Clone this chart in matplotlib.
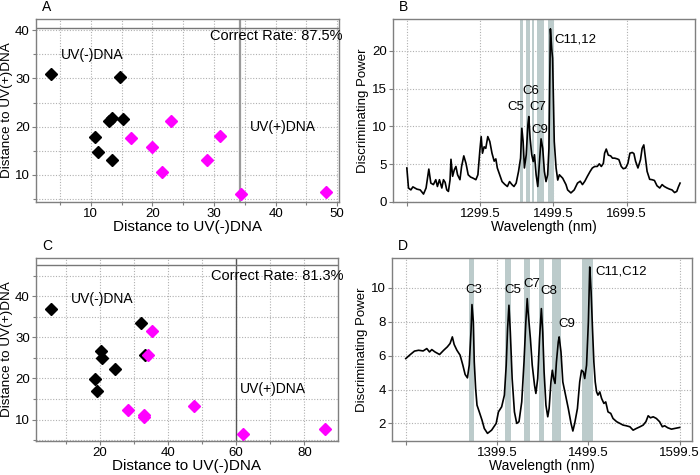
import matplotlib
matplotlib.use('Agg')
import matplotlib.pyplot as plt
from matplotlib.ticker import MultipleLocator, FixedLocator

plt.rcParams['font.family'] = ['Liberation Sans', 'DejaVu Sans']
plt.rcParams['font.size'] = 9.5

# ---- panel A: distances (model 1)
a_neg_x = [3.5, 14.8, 10.6, 11.2, 12.9, 13.5, 15.3, 13.4]
a_neg_y = [30.9, 30.2, 17.9, 14.7, 21.2, 21.7, 21.6, 13.0]
a_pos_x = [16.6, 19.9, 23.1, 21.5, 28.9, 31.0, 34.4, 48.2]
a_pos_y = [17.6, 15.8, 21.2, 10.7, 13.0, 18.0, 6.1, 6.5]
a_cut_x = 34.3
a_cut_y = 40.5

# ---- panel C: distances (model 2)
c_neg_x = [5.5, 32.1, 20.2, 20.5, 24.4, 18.4, 19.2, 33.1]
c_neg_y = [36.8, 33.4, 26.8, 24.9, 22.3, 19.8, 17.0, 25.6]
c_pos_x = [35.4, 34.0, 28.2, 32.9, 33.0, 47.7, 62.0, 86.0]
c_pos_y = [31.6, 25.8, 12.3, 11.1, 10.7, 13.4, 6.6, 7.6]
c_cut_x = 59.8
c_cut_y = 47.5

# ---- panel B: discriminating power spectrum
b_wl = [1099.5, 1104, 1110.5, 1116, 1127, 1136, 1145, 1152, 1159.5, 1165,
        1172, 1178.5, 1183, 1188.5, 1195, 1199.5, 1204, 1208.5, 1213, 1217.5,
        1220, 1224.5, 1229, 1233.5, 1238, 1244.5, 1249, 1255, 1261, 1267,
        1273.5, 1280.5, 1288, 1293.5, 1299, 1302.5, 1306, 1310.5, 1315, 1320.5,
        1326, 1332, 1338, 1342.5, 1346.5, 1353, 1359.5, 1366.5, 1374, 1380,
        1386.5, 1392, 1398, 1404.5, 1410, 1413.5, 1417, 1420.5, 1425.5, 1430,
        1432.5, 1436, 1440.5, 1444.5, 1448, 1452.5, 1457, 1462.5, 1466, 1470.5,
        1475, 1479.5, 1484, 1487.5, 1491.5, 1495, 1497.5, 1502, 1507, 1511.5,
        1516, 1525, 1534, 1538.5, 1547.5, 1556.5, 1565.5, 1573, 1579, 1585.5,
        1592.5, 1600, 1606, 1612.5, 1619.5, 1625, 1630.5, 1636, 1639.5, 1644,
        1649.5, 1656, 1661, 1667, 1674, 1678.5, 1685, 1690.5, 1697, 1703,
        1708.5, 1715, 1719.5, 1724, 1730.5, 1737.5, 1742, 1746.5, 1751, 1755.5,
        1762.5, 1769, 1775.5, 1782.5, 1790, 1796.5, 1802.5, 1810, 1817, 1823.5,
        1830.5, 1836.5, 1841, 1845.5]
b_dp = [4.5, 1.85, 1.6, 2.0, 1.7, 1.6, 1.05, 1.85, 4.35, 2.5,
        2.3, 2.95, 2.05, 2.95, 1.85, 2.95, 2.6, 1.6, 1.4, 2.95,
        5.65, 3.4, 4.25, 4.7, 3.6, 2.95, 4.7, 6.1, 5.1, 3.6,
        3.3, 3.15, 2.95, 3.6, 6.9, 8.65, 6.45, 7.3, 7.1, 8.65,
        8.0, 6.45, 5.4, 5.7, 4.5, 3.6, 2.7, 2.35, 2.05, 2.7,
        2.3, 2.05, 2.5, 4.05, 5.8, 9.75, 8.0, 4.5, 6.25, 10.2,
        11.3, 8.45, 6.25, 5.35, 6.25, 3.6, 2.05, 5.8, 8.35, 7.1,
        4.05, 2.7, 3.6, 7.1, 22.9, 20.3, 19.0, 8.0, 4.5, 2.9,
        3.6, 3.15, 2.3, 1.6, 1.2, 1.6, 2.5, 2.75, 2.3, 2.75,
        3.4, 4.05, 4.5, 4.7, 4.7, 5.05, 4.7, 5.1, 6.45, 7.0,
        6.2, 6.1, 5.8, 5.8, 5.7, 5.6, 4.7, 4.4, 4.5, 5.1,
        6.45, 6.55, 6.4, 5.4, 4.5, 5.6, 7.1, 7.55, 5.8, 4.05,
        3.0, 2.95, 2.85, 2.15, 1.85, 2.3, 2.05, 1.85, 1.7, 1.6,
        1.25, 1.4, 2.0, 2.5]
b_bands = [(1408.5, 1415.5), (1424, 1435), (1441.5, 1448), (1455, 1473), (1484.5, 1501)]
b_labels = ['C5', 'C6', 'C7', 'C9']
b_label_x = [1398.3, 1439, 1457, 1463.4]
b_label_y = [12.5, 14.7, 12.5, 9.5]

# ---- panel D: discriminating power spectrum (second model)
d_wl = [1299.5, 1304.5, 1309, 1313.5, 1318.5, 1322.5, 1325.5, 1328, 1331.5, 1336.5,
        1341, 1345, 1348, 1350.5, 1352.5, 1355.5, 1359, 1362, 1364.5, 1367,
        1369, 1371, 1372, 1373.5, 1374.5, 1376, 1377.5, 1380, 1383, 1385.5,
        1389, 1393.5, 1398.5, 1401, 1404.5, 1407.5, 1409.5, 1411, 1412.5, 1414,
        1416, 1418.5, 1421, 1423.5, 1426.5, 1429, 1431, 1432.5, 1433.5, 1436,
        1438, 1440.5, 1442, 1444, 1446, 1448, 1449.5, 1451, 1453, 1455,
        1456.5, 1458.5, 1460, 1461.5, 1463, 1464.5, 1466.5, 1467.5, 1469.5, 1471.5,
        1474.5, 1477.5, 1480.5, 1482.5, 1484.5, 1487.5, 1490, 1492, 1494, 1495.5,
        1497.5, 1499.5, 1500.5, 1501, 1502.5, 1504, 1505.5, 1507, 1508.5, 1510,
        1512, 1514, 1516.5, 1518.5, 1521, 1524, 1526.5, 1530.5, 1534, 1537.5,
        1541, 1545, 1548.5, 1552, 1556, 1559.5, 1562.5, 1565, 1567.5, 1570.5,
        1574, 1577.5, 1580.5, 1583, 1586.5, 1590.5, 1594, 1599.5]
d_dp = [5.83, 6.07, 6.27, 6.32, 6.28, 6.42, 6.22, 6.36, 6.22, 6.07,
        6.32, 6.52, 6.72, 7.11, 6.66, 6.32, 6.03, 5.44, 4.89, 4.69,
        5.44, 7.5, 9.02, 8.0, 5.63, 4.06, 3.08, 2.68, 2.19, 1.7,
        1.41, 1.6, 2.0, 2.68, 2.98, 3.67, 5.44, 7.6, 8.98, 7.4,
        4.65, 2.68, 2.0, 2.1, 3.27, 5.63, 8.0, 9.37, 8.58, 7.01,
        5.44, 4.26, 3.77, 4.65, 7.01, 8.78, 7.4, 5.04, 3.08, 2.39,
        2.88, 4.45, 5.14, 4.65, 4.36, 5.63, 6.81, 7.11, 6.22, 4.45,
        3.67, 2.88, 2.0, 1.55, 2.0, 2.88, 4.45, 5.14, 5.04, 4.65,
        5.44, 8.0, 10.16, 11.24, 9.76, 7.6, 5.63, 4.45, 3.86, 3.67,
        3.86, 3.47, 3.18, 3.27, 2.68, 2.59, 2.29, 2.1, 2.0, 1.9,
        1.86, 1.8, 1.6, 1.7, 1.8, 1.9, 2.1, 2.45, 2.33, 2.39,
        2.29, 2.1, 1.8, 1.86, 1.74, 1.66, 1.7, 1.76]
d_bands = [(1369, 1374.5), (1408.5, 1414.5), (1429.5, 1435.5), (1445.5, 1450.5),
           (1460, 1469.5), (1492, 1505)]
d_labels = ['C3', 'C5', 'C7', 'C8', 'C9']
d_label_x = [1374.4, 1416.2, 1437.4, 1456.7, 1476.3]
d_label_y = [9.86, 9.86, 10.24, 9.8, 7.9]

band_color = '#bccbcb'
frame_color = '#7f7f7f'
grid_kw = dict(color='#b0b0b0', linestyle=(0, (1, 1.5)), linewidth=0.8)


def style_axes(ax):
    for s in ax.spines.values():
        s.set_color(frame_color)
        s.set_linewidth(1.0)
    ax.tick_params(which='both', direction='out', color=frame_color, length=3,
                   width=0.8, labelsize=9.5, pad=1.5)
    ax.tick_params(which='minor', length=2)
    ax.grid(True, which='both', **grid_kw)
    ax.set_axisbelow(True)


fig = plt.figure(figsize=(7, 4.75), dpi=100)
axA = fig.add_axes([36 / 700, 1 - 202 / 475, 303 / 700, 183 / 475])
axB = fig.add_axes([393 / 700, 1 - 202 / 475, 302 / 700, 183 / 475])
axC = fig.add_axes([36 / 700, 1 - 441 / 475, 302 / 700, 183 / 475])
axD = fig.add_axes([392 / 700, 1 - 441 / 475, 300 / 700, 183 / 475])

# A
ax = axA
style_axes(ax)
ax.plot(a_neg_x, a_neg_y, 'D', color='black', markersize=6, zorder=3)
ax.plot(a_pos_x, a_pos_y, 'D', color='#ff00ff', markersize=6, zorder=3)
ax.axvline(a_cut_x, color='#999999', lw=1.6, zorder=2)
ax.axhline(a_cut_y, color='#777777', lw=1.0, zorder=2)
ax.set_xlim(1.1, 50.3)
ax.set_ylim(4.4, 42.3)
ax.xaxis.set_major_locator(MultipleLocator(10))
ax.xaxis.set_minor_locator(MultipleLocator(5))
ax.yaxis.set_major_locator(MultipleLocator(10))
ax.yaxis.set_minor_locator(MultipleLocator(5))
ax.text(5.2, 34.8, 'UV(-)DNA', va='center', ha='left', fontsize=10)
ax.text(35.8, 20, 'UV(+)DNA', va='center', ha='left', fontsize=10)
ax.text(29.4, 38.8, 'Correct Rate: 87.5%', va='center', ha='left', fontsize=10.5)
ax.set_xlabel('Distance to UV(-)DNA', labelpad=0, fontsize=11)
ax.set_ylabel('Distance to UV(+)DNA', labelpad=1, fontsize=9.7)

# C
ax = axC
style_axes(ax)
ax.plot(c_neg_x, c_neg_y, 'D', color='black', markersize=6, zorder=3)
ax.plot(c_pos_x, c_pos_y, 'D', color='#ff00ff', markersize=6, zorder=3)
ax.axvline(c_cut_x, color='#555555', lw=1.0, zorder=2)
ax.axhline(c_cut_y, color='#777777', lw=1.0, zorder=2)
ax.set_xlim(1.2, 89.9)
ax.set_ylim(4.8, 49.3)
ax.xaxis.set_major_locator(MultipleLocator(20))
ax.xaxis.set_minor_locator(MultipleLocator(10))
ax.yaxis.set_major_locator(MultipleLocator(10))
ax.yaxis.set_minor_locator(MultipleLocator(5))
ax.text(11.5, 39.4, 'UV(-)DNA', va='center', ha='left', fontsize=10)
ax.text(61.2, 17.5, 'UV(+)DNA', va='center', ha='left', fontsize=10)
ax.text(52.5, 44.9, 'Correct Rate: 81.3%', va='center', ha='left', fontsize=10.5)
ax.set_xlabel('Distance to UV(-)DNA', labelpad=0, fontsize=11)
ax.set_ylabel('Distance to UV(+)DNA', labelpad=1, fontsize=9.7)

# B
ax = axB
style_axes(ax)
for lo, hi in b_bands:
    ax.axvspan(lo, hi, color=band_color, lw=0, zorder=1)
ax.plot(b_wl, b_dp, color='black', lw=1.2, zorder=3)
ax.set_xlim(1061.7, 1886.3)
ax.set_ylim(0, 24.2)
ax.xaxis.set_major_locator(FixedLocator([1099.5, 1299.5, 1499.5, 1699.5]))
ax.set_xticklabels(['', '1299.5', '1499.5', '1699.5'])
ax.yaxis.set_major_locator(MultipleLocator(5))
for t, x, y in zip(b_labels, b_label_x, b_label_y):
    ax.text(x, y, t, ha='center', va='center', fontsize=9.5, zorder=4)
ax.text(1501.4, 21.5, 'C11,12', ha='left', va='center', fontsize=9.5, zorder=4)
ax.set_xlabel('Wavelength (nm)', labelpad=0, fontsize=10)
ax.set_ylabel('Discriminating Power', labelpad=2, fontsize=9.5)

# D
ax = axD
style_axes(ax)
for lo, hi in d_bands:
    ax.axvspan(lo, hi, color=band_color, lw=0, zorder=1)
ax.plot(d_wl, d_dp, color='black', lw=1.2, zorder=3)
ax.set_xlim(1284.4, 1613)
ax.set_ylim(0.96, 11.77)
ax.xaxis.set_major_locator(FixedLocator([1299.5, 1399.5, 1499.5, 1599.5]))
ax.set_xticklabels(['', '1399.5', '1499.5', '1599.5'])
ax.yaxis.set_major_locator(MultipleLocator(2))
for t, x, y in zip(d_labels, d_label_x, d_label_y):
    ax.text(x, y, t, ha='center', va='center', fontsize=9.5, zorder=4)
ax.text(1507.4, 11.0, 'C11,C12', ha='left', va='center', fontsize=9.5, zorder=4)
ax.set_xlabel('Wavelength (nm)', labelpad=0, fontsize=10)
ax.set_ylabel('Discriminating Power', labelpad=2, fontsize=9.5)

for ax, letter in zip([axA, axB, axC, axD], 'ABCD'):
    ax.text(0.02, 1.03, letter, transform=ax.transAxes,
            fontsize=10, ha='left', va='bottom')

fig.savefig('out.png', dpi=100)
